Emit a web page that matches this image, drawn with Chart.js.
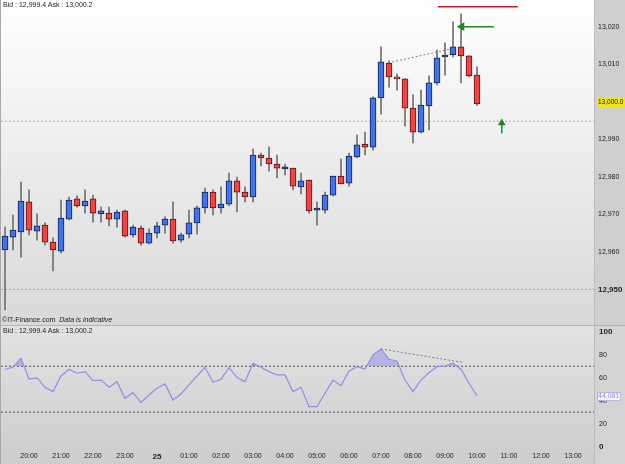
<!DOCTYPE html>
<html>
<head>
<meta charset="utf-8">
<script src="https://cdn.jsdelivr.net/npm/chart.js@4.4.1/dist/chart.umd.min.js"></script>
<style>
  body { margin: 0; background: #b4b4b4; }
  #wrap { position: relative; width: 625px; height: 464px; overflow: hidden; font-family: "Liberation Sans", Arial, sans-serif; }
  #priceChart { position: absolute; left: 0; top: 0; }
  #rsiChart { position: absolute; left: 0; top: 326px; }
  .note { position: absolute; font-size: 7px; line-height: 8px; color: #222; white-space: nowrap; }
</style>
</head>
<body>
<div id="wrap">
  <canvas id="priceChart" width="625" height="325"></canvas>
  <canvas id="rsiChart" width="625" height="138"></canvas>
  <div class="note" style="left:3px;top:1px">Bid : 12,999.4 Ask : 13,000.2</div>
  <div class="note" style="left:2px;top:316px">©IT-Finance.com &nbsp;<i>Data is indicative</i></div>
  <div class="note" style="left:3px;top:327px">Bid : 12,999.4 Ask : 13,000.2</div>
</div>
<script>
// 15 minute slots, 19:15 on the 24th to 13:30 on the 25th
const slots = [
  '19:15','19:30','19:45','20:00','20:15','20:30','20:45','21:00','21:15','21:30','21:45','22:00',
  '22:15','22:30','22:45','23:00','23:15','23:30','23:45','00:00','00:15','00:30','00:45','01:00',
  '01:15','01:30','01:45','02:00','02:15','02:30','02:45','03:00','03:15','03:30','03:45','04:00',
  '04:15','04:30','04:45','05:00','05:15','05:30','05:45','06:00','06:15','06:30','06:45','07:00',
  '07:15','07:30','07:45','08:00','08:15','08:30','08:45','09:00','09:15','09:30','09:45','10:00',
  '10:15','10:30','10:45','11:00','11:15','11:30','11:45','12:00','12:15','12:30','12:45','13:00',
  '13:15','13:30'
];
const dayLabels = { '00:00': '25' };

const open = [
  12960.5, 12963.9, 12965.3, 12973.3, 12965.5, 12967.1, 12962.6, 12960.2, 12968.7, 12974.1,
  12972.2, 12974.1, 12970.1, 12970.3, 12968.7, 12970.9, 12964.5, 12966.3, 12962.3, 12965.0,
  12967.1, 12968.7, 12963.1, 12964.7, 12967.7, 12971.7, 12975.9, 12971.7, 12972.7, 12978.9,
  12975.9, 12974.6, 12985.8, 12985.0, 12983.4, 12982.1, 12982.3, 12977.3, 12979.1, 12971.1,
  12971.1, 12975.1, 12980.2, 12978.3, 12985.3, 12988.7, 12987.9, 13001.0, 13010.3, 13006.6,
  13006.1, 12998.3, 12991.9, 12998.9, 13005.0, 13011.9, 13012.5, 13014.6, 13012.2, 13007.1
];
const high = [
  12966.6, 12969.8, 12978.6, 12976.5, 12970.1, 12967.7, 12963.7, 12973.8, 12974.6, 12974.9,
  12976.5, 12975.1, 12971.9, 12971.9, 12971.1, 12971.1, 12967.1, 12966.9, 12966.1, 12967.9,
  12969.3, 12973.3, 12965.0, 12971.1, 12972.2, 12977.0, 12976.5, 12977.3, 12981.0, 12979.9,
  12977.3, 12987.4, 12986.3, 12987.9, 12985.8, 12983.4, 12982.3, 12981.0, 12979.1, 12973.3,
  12975.9, 12980.2, 12984.7, 12986.3, 12991.1, 12991.9, 13001.3, 13014.6, 13010.9, 13007.4,
  13006.1, 13001.8, 13003.1, 13006.9, 13013.8, 13015.7, 13021.3, 13023.4, 13012.2, 13009.3
];
const low = [
  12944.5, 12960.5, 12958.6, 12964.5, 12963.1, 12961.8, 12954.9, 12959.7, 12968.5, 12971.9,
  12970.3, 12967.9, 12967.9, 12966.9, 12966.6, 12963.9, 12963.9, 12961.8, 12962.1, 12963.7,
  12965.0, 12962.3, 12962.6, 12963.7, 12964.7, 12970.3, 12969.8, 12970.3, 12972.2, 12970.6,
  12973.3, 12973.3, 12982.9, 12981.5, 12979.7, 12980.5, 12976.5, 12975.4, 12970.3, 12967.1,
  12970.3, 12974.9, 12978.1, 12977.5, 12985.0, 12985.8, 12987.1, 12996.7, 13003.9, 13003.1,
  12993.5, 12989.0, 12991.7, 12992.5, 13004.5, 13007.1, 13011.9, 13005.0, 13006.6, 12999.0
];
const close = [
  12964.2, 12965.8, 12973.5, 12965.8, 12966.9, 12962.6, 12960.5, 12969.0, 12973.8, 12972.2,
  12973.5, 12970.3, 12970.9, 12968.7, 12970.6, 12964.2, 12966.6, 12962.3, 12965.0, 12966.9,
  12968.7, 12962.9, 12964.5, 12967.7, 12971.7, 12975.9, 12971.7, 12972.7, 12978.9, 12975.9,
  12974.6, 12985.8, 12985.0, 12983.4, 12982.3, 12982.1, 12977.5, 12978.9, 12970.9, 12971.1,
  12975.1, 12980.2, 12978.1, 12985.5, 12988.5, 12987.9, 13001.0, 13010.6, 13006.6, 13006.1,
  12998.3, 12991.9, 12999.1, 13005.0, 13011.7, 13012.2, 13014.6, 13012.2, 13006.9, 12999.4
];
const rsi = [
  67.4, 69.1, 76.9, 58.9, 59.8, 51.7, 47.9, 61.5, 67.4, 63.9,
  65.3, 57.4, 58.0, 51.7, 56.6, 42.1, 47.0, 38.6, 45.0, 50.8,
  54.6, 40.6, 45.9, 53.7, 61.5, 69.1, 56.0, 58.7, 68.8, 60.1,
  56.6, 72.6, 69.1, 65.3, 62.4, 62.4, 47.9, 51.7, 34.8, 34.8,
  46.5, 58.0, 53.1, 65.9, 69.6, 67.6, 79.8, 85.0, 76.1, 74.6,
  58.0, 47.9, 58.0, 64.4, 69.6, 70.2, 72.6, 67.4, 55.2, 44.1
];

const priceTicks = [12950, 12960, 12970, 12980, 12990, 13010, 13020];
const rsiTicks = [0, 20, 40, 60, 80, 100];
const rsiLevels = [70, 30];

// drawn objects on the price pane, in slot / price units
const supportLevel = 12950;
const entryLevel = 12994.8;
const targetLine = { from: 54.1, to: 64.1, y: 13025.3 };
const leftArrow = { from: 57.1, to: 61.1, y: 13020 };
const upArrow = { x: 62.1, from: 12991.6, to: 12994.3 };
const priceTrend = [[48.4, 13010.6], [55.6, 13014.0]];
const rsiTrend = [[47, 85.0], [57.1, 73.5]];

const xMin = -0.5, xMax = 73.625;

Chart.defaults.font.family = '"Liberation Sans", Arial, sans-serif';
Chart.defaults.font.size = 7;
Chart.defaults.color = '#222';

const panelBg = {
  id: 'panelBg',
  beforeDraw(chart, args, o) {
    const { ctx, chartArea: a, width, height } = chart;
    ctx.save();
    const g = ctx.createLinearGradient(0, 0, 0, height);
    g.addColorStop(0, o.top);
    g.addColorStop(1, o.bottom);
    ctx.fillStyle = g;
    ctx.fillRect(0, 0, width, height);
    ctx.fillStyle = o.axis;
    ctx.fillRect(a.right, 0, width - a.right, height);
    ctx.fillStyle = '#bdbdbd';
    ctx.fillRect(a.right, 0, 1, height);
    ctx.fillStyle = '#a9a9a9';
    ctx.fillRect(0, 0, 1, height);
    ctx.restore();
  }
};

const tag = {
  id: 'tag',
  afterDraw(chart, args, o) {
    if (!o.text) return;
    const { ctx, chartArea } = chart;
    const y = Math.round(chart.scales.y.getPixelForValue(o.value));
    ctx.save();
    ctx.font = o.size + 'px "Liberation Sans", Arial, sans-serif';
    const w = Math.ceil(ctx.measureText(o.text).width) + 2;
    const x = chartArea.right + 3;
    ctx.fillStyle = o.fill;
    ctx.fillRect(x, y - 4, w, 9);
    if (o.stroke) {
      ctx.strokeStyle = o.stroke;
      ctx.strokeRect(x + 0.5, y - 3.5, w - 1, 8);
    }
    ctx.fillStyle = o.color;
    ctx.textBaseline = 'middle';
    ctx.fillText(o.text, x + 1, y + 0.5);
    ctx.restore();
  }
};

function hline(y, from, to, color, dash, width) {
  return {
    type: 'line', data: [{ x: from, y: y }, { x: to, y: y }],
    borderColor: color, borderDash: dash, borderWidth: width,
    pointRadius: 0, order: 5
  };
}

const idx = open.map((_, i) => i);
const bodyFill = idx.map(i => Math.abs(close[i] - open[i]) < 0.35 ? '#1c2a55' : (close[i] > open[i] ? '#4472e8' : '#ec4646'));
const bodyLine = idx.map(i => Math.abs(close[i] - open[i]) < 0.35 ? '#1c2a55' : (close[i] > open[i] ? '#13224f' : '#5a1313'));

const xHidden = { type: 'linear', min: xMin, max: xMax, offset: false, display: false };
function fixWidth(scale) { scale.width = 31; scale.paddingTop = 0; scale.paddingBottom = 0; }

new Chart(document.getElementById('priceChart'), {
  type: 'bar',
  data: {
    datasets: [
      {
        label: 'wick', data: idx.map(i => ({ x: i, y: [low[i], high[i]] })),
        backgroundColor: '#707070', barThickness: 1, grouped: false, order: 2
      },
      {
        label: 'body', data: idx.map(i => ({ x: i, y: [open[i], close[i]] })),
        backgroundColor: bodyFill, borderColor: bodyLine, borderWidth: 1, borderSkipped: false,
        barThickness: 6, minBarLength: 2, grouped: false, order: 1
      },
      hline(supportLevel, xMin, xMax, '#8ea4d6', [2, 2], 1),
      hline(entryLevel, xMin, xMax, '#e99d6c', [2, 2], 1),
      Object.assign(hline(targetLine.y, targetLine.from, targetLine.to, '#c41a22', [], 1.5), { order: 0 }),
      {
        type: 'line', data: [{ x: leftArrow.from, y: leftArrow.y }, { x: leftArrow.to, y: leftArrow.y }],
        borderColor: '#1d8a1d', backgroundColor: '#1d8a1d', borderWidth: 1.5,
        pointStyle: 'triangle', pointRotation: -90, pointRadius: [3.5, 0], order: 0
      },
      {
        type: 'line', data: [{ x: upArrow.x, y: upArrow.from }, { x: upArrow.x, y: upArrow.to }],
        borderColor: '#1d8a1d', backgroundColor: '#1d8a1d', borderWidth: 1.5,
        pointStyle: 'triangle', pointRotation: 0, pointRadius: [0, 3], order: 0
      },
      {
        type: 'line', data: priceTrend.map(p => ({ x: p[0], y: p[1] })),
        borderColor: '#666', borderDash: [2, 2], borderWidth: 0.8, pointRadius: 0, order: 0
      }
    ]
  },
  options: {
    responsive: false, animation: false,
    layout: { padding: { left: 1, top: 0, right: 0, bottom: 0 }, autoPadding: false },
    scales: {
      x: xHidden,
      y: {
        position: 'right', min: 12940.5, max: 13027.1,
        grid: { display: false, drawTicks: false }, border: { display: false },
        afterBuildTicks: s => { s.ticks = priceTicks.map(v => ({ value: v })); },
        afterFit: fixWidth,
        ticks: {
          padding: 4, color: '#222',
          font: c => c.tick && c.tick.value === 12950 ? { size: 8, weight: 'bold' } : { size: 7 },
          callback: v => v.toLocaleString('en-US')
        }
      }
    },
    plugins: {
      legend: { display: false }, tooltip: { enabled: false },
      panelBg: { top: '#ffffff', bottom: '#d9d9d9', axis: '#cfcfcf' },
      tag: { value: 13000, text: '13,000.0', size: 6.5, fill: '#f2e51c', color: '#111' }
    }
  },
  plugins: [panelBg, tag]
});

new Chart(document.getElementById('rsiChart'), {
  type: 'line',
  data: {
    datasets: [
      {
        data: idx.map(i => ({ x: i, y: rsi[i] })),
        borderColor: '#8f8fe6', borderWidth: 1.2, pointRadius: 0, order: 1,
        fill: { target: { value: 70 }, above: 'rgba(146,146,232,0.55)', below: 'rgba(0,0,0,0)' }
      },
      hline(rsiLevels[0], xMin, xMax, '#555', [2, 2], 1),
      hline(rsiLevels[1], xMin, xMax, '#555', [2, 2], 1),
      {
        data: rsiTrend.map(p => ({ x: p[0], y: p[1] })),
        borderColor: '#666', borderDash: [2, 2], borderWidth: 0.8, pointRadius: 0, order: 0
      }
    ]
  },
  options: {
    responsive: false, animation: false,
    layout: { padding: { left: 1, top: 0, right: 0, bottom: 0 }, autoPadding: false },
    scales: {
      x: {
        type: 'linear', min: xMin, max: xMax, offset: false,
        grid: { display: false, drawTicks: false }, border: { display: false },
        afterBuildTicks: s => {
          s.ticks = slots.map((t, i) => ({ value: i, t: t })).filter(o => o.t.endsWith(':00')).map(o => ({ value: o.value }));
        },
        afterFit: s => { s.height = 15; s.paddingLeft = 0; s.paddingRight = 0; },
        ticks: {
          autoSkip: false, maxRotation: 0, padding: 3, color: '#222',
          font: c => c.tick && dayLabels[slots[c.tick.value]] ? { size: 8, weight: 'bold' } : { size: 7 },
          callback: v => dayLabels[slots[v]] || slots[v]
        }
      },
      y: {
        position: 'right', min: -2, max: 105,
        grid: { display: false, drawTicks: false }, border: { display: false },
        afterBuildTicks: s => { s.ticks = rsiTicks.map(v => ({ value: v })); },
        afterFit: fixWidth,
        ticks: {
          padding: 5, color: '#222',
          font: c => c.tick && (c.tick.value === 0 || c.tick.value === 100) ? { size: 8, weight: 'bold' } : { size: 7 }
        }
      }
    },
    plugins: {
      legend: { display: false }, tooltip: { enabled: false },
      panelBg: { top: '#e2e2e2', bottom: '#cdcdcd', axis: '#d3d3d3' },
      tag: { value: rsi[rsi.length - 1], text: '44.081', size: 7, fill: '#f4f4f8', stroke: '#b8b8e0', color: '#8f8fe6' }
    }
  },
  plugins: [panelBg, tag]
});
</script>
</body>
</html>
